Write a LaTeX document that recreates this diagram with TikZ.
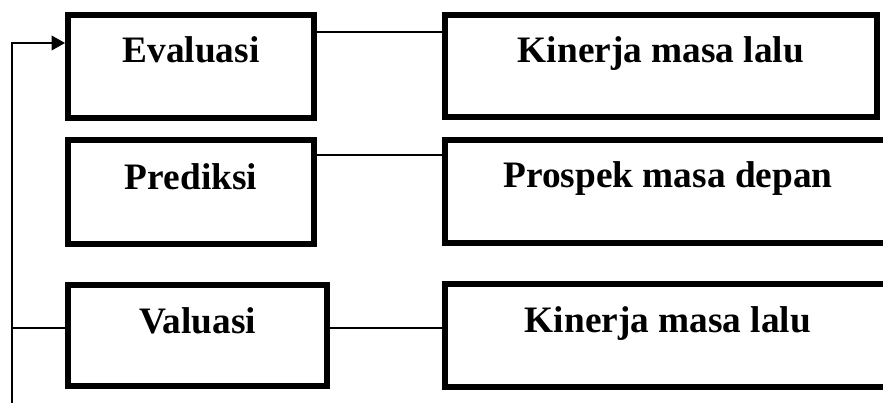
\documentclass[tikz,border=0pt]{standalone}
\usepackage{fontspec}
\setmainfont{Liberation Serif}
\usetikzlibrary{arrows.meta}
\begin{document}
\begin{tikzpicture}[x=0.75pt,y=-0.75pt,
  box/.style={draw, line width=4.5pt, inner sep=0pt, anchor=base, align=center,
    font=\fontsize{28pt}{32pt}\selectfont\bfseries},
  link/.style={line width=1pt}]
\useasboundingbox (0,0) rectangle (883,403);
\clip (0,0) rectangle (883,403);
% left column
\node[box, minimum width=184.5pt, text height=36pt, text depth=41.25pt] (ev) at (191,63) {Evaluasi};
\node[box, minimum width=184.5pt, text height=37.5pt, text depth=40.5pt] (pr) at (191,190) {Prediksi};
\node[box, minimum width=194.25pt, text height=36pt, text depth=39.75pt] (va) at (197.5,333) {Valuasi};
% right column
\node[box, minimum width=324pt, text height=36pt, text depth=40.5pt] (k1) at (661,63) {Kinerja masa lalu};
\node[box, minimum width=334.5pt, text height=36pt, text depth=41.25pt] (ps) at (668,188) {Prospek masa depan};
\node[box, minimum width=334.5pt, text height=36pt, text depth=41.25pt] (k3) at (668,332) {Kinerja masa lalu};
% connectors
\draw[link] (ev.east |- 0,32) -- (k1.west |- 0,32);
\draw[link] (pr.east |- 0,155) -- (ps.west |- 0,155);
\draw[link] (va.east |- 0,328) -- (k3.west |- 0,328);
% feedback line
\coordinate (bot) at (12,405);
\draw[link, -{Triangle[length=10pt,width=11pt]}] (bot) |- (ev.west |- 0,43);
\draw[link] (bot |- 0,328) -- (va.west |- 0,328);
\end{tikzpicture}
\end{document}
